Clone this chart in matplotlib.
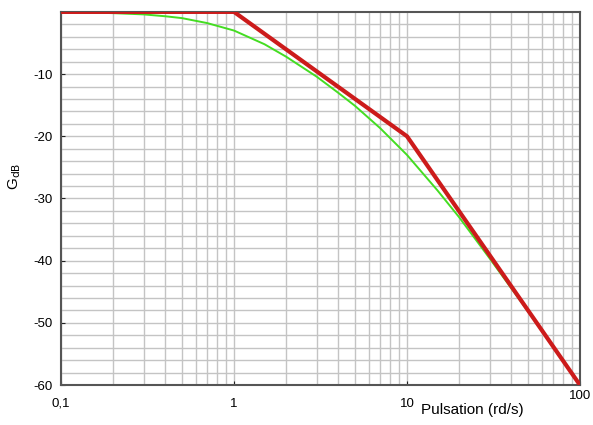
import matplotlib
matplotlib.use("Agg")
import matplotlib.pyplot as plt
from matplotlib.ticker import FixedLocator, NullFormatter

plt.rcParams['font.family'] = ['Liberation Sans', 'DejaVu Sans']
plt.rcParams['axes.unicode_minus'] = False

# Asymptotic (red) gain, dB
asym_w = [0.1, 1, 10, 100]
asym_db = [0, 0, -20, -60]

real_w = [0.1, 0.15, 0.2, 0.3, 0.4, 0.5, 0.7, 1, 1.5, 2, 3, 4, 5, 7, 10, 15, 20, 30, 40, 50, 70, 100]
real_db = [0, -0.1, -0.2, -0.4, -0.7, -1.0, -1.8, -3.0, -5.2, -7.2, -10.4, -13.0, -15.1, -18.7,
           -23.0, -28.7, -33.0, -39.6, -44.4, -48.1, -53.9, -60.0]

xtick_vals = [0.1, 1, 10, 100]
xtick_labels = ['0,1', '1', '10', '']
ytick_vals = [-60, -50, -40, -30, -20, -10]

fig = plt.figure(figsize=(5.93, 4.25), dpi=100)
ax = fig.add_axes([0.103, 0.094, 0.875, 0.878])
ax.set_xscale('log')
ax.set_xlim(0.1, 100)
ax.set_ylim(-60, 0)

# grid
minor_x = [m * d for d in (0.1, 1, 10) for m in range(2, 10)]
ax.xaxis.set_minor_locator(FixedLocator(minor_x))
ax.xaxis.set_minor_formatter(NullFormatter())
ax.yaxis.set_minor_locator(FixedLocator(list(range(-58, 0, 2))))
ax.grid(True, which='both', color='#c4c4c4', linewidth=1.0)
ax.set_axisbelow(True)

ax.plot(real_w, real_db, color='#44dd22', linewidth=1.4, zorder=3)
ax.plot(asym_w, asym_db, color='#cc1b1b', linewidth=3.0, zorder=4, solid_capstyle='butt')

ax.set_xticks(xtick_vals)
ax.set_xticklabels(xtick_labels)
ax.set_yticks(ytick_vals)
ax.tick_params(which='major', direction='in', length=3, labelsize=9.5, color='#222222', pad=6)
ax.tick_params(axis='x', which='major', pad=9)
ax.tick_params(which='minor', length=0)
for s in ax.spines.values():
    s.set_color('#555555')
    s.set_linewidth(1.5)

fig.text(0.978, 0.055, '100', fontsize=9.5, ha='center', va='bottom')
fig.text(0.797, 0.035, 'Pulsation (rd/s)', fontsize=11, ha='center', va='center')
fig.text(0.025, 0.585, r'G$_{\mathrm{dB}}$', fontsize=11, ha='center', va='center', rotation=90)

fig.savefig('out.png', dpi=100)
